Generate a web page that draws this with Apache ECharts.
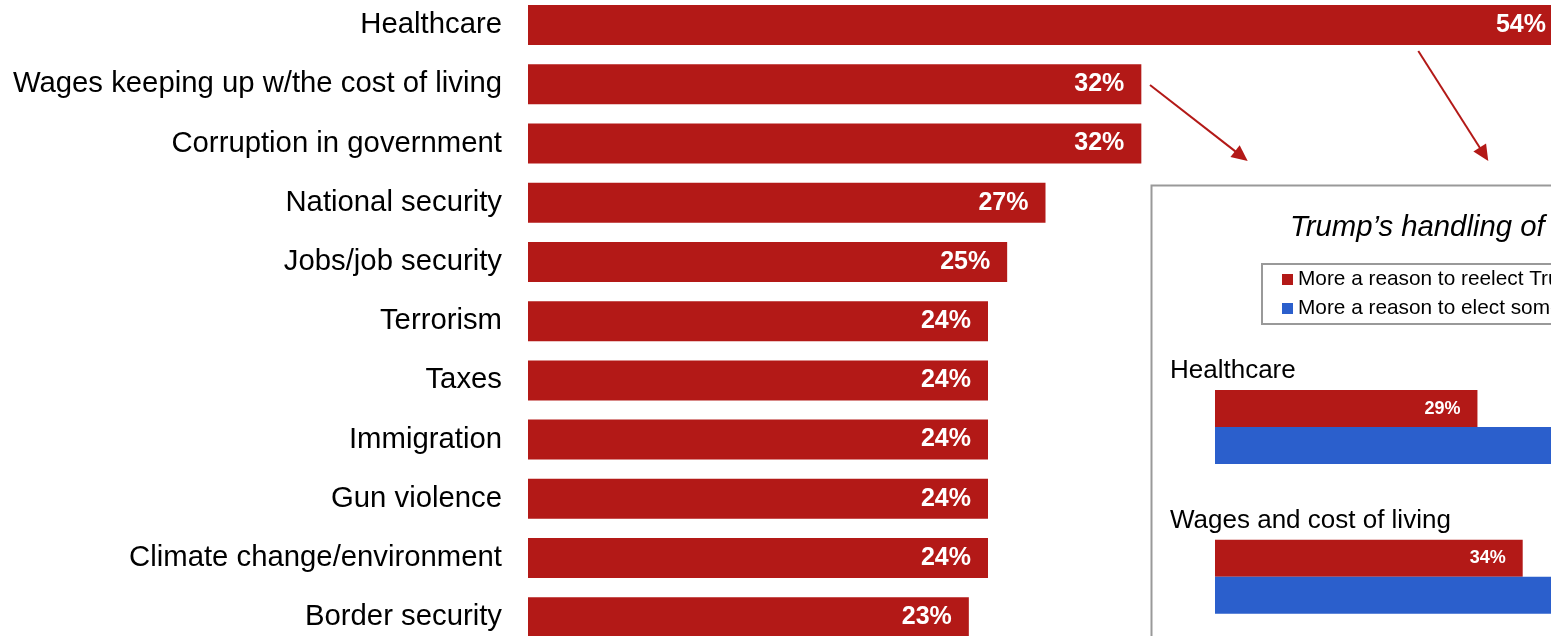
<!DOCTYPE html>
<html>
<head>
<meta charset="utf-8">
<script src="https://cdn.jsdelivr.net/npm/echarts@6/dist/echarts.min.js"></script>
<style>
html,body{margin:0;padding:0;background:#fff;}
#c{width:1551px;height:636px;}
</style>
</head>
<body>
<div id="c"></div>
<script>
// Main chart data
const categories = ['Healthcare','Wages keeping up w/the cost of living','Corruption in government','National security','Jobs/job security','Terrorism','Taxes','Immigration','Gun violence','Climate change/environment','Border security'];
const values = [54,32,32,27,25,24,24,24,24,24,23];

// Inset chart data
const insetTitle = 'Trump’s handling of';
const insetCategories = ['Healthcare','Wages and cost of living'];
const reelectName = 'More a reason to reelect Trump';
const electName = 'More a reason to elect someone else';
const reelectValues = [29,34];
const electValues = [60,57];

const RED = '#B31917';
const BLUE = '#2B5FCC';
const FONT = "'Liberation Sans', Arial, sans-serif";

const chart = echarts.init(document.getElementById('c'), null, {renderer:'canvas'});

function arrow(x1,y1,x2,y2){
  const dx=x2-x1, dy=y2-y1, L=Math.sqrt(dx*dx+dy*dy);
  const ux=dx/L, uy=dy/L, hl=16, hw=7.5;
  const bx=x2-ux*hl, by=y2-uy*hl;
  return [
    {type:'line', shape:{x1:x1,y1:y1,x2:bx+ux*2,y2:by+uy*2}, style:{stroke:RED,lineWidth:2}, z:100},
    {type:'polygon', shape:{points:[[x2,y2],[bx-uy*hw,by+ux*hw],[bx+uy*hw,by-ux*hw]]}, style:{fill:RED}, z:100}
  ];
}

const option = {
  animation:false,
  backgroundColor:'#fff',
  textStyle:{fontFamily:FONT},
  title:{
    text: insetTitle,
    left: 1285, top: 208,
    textStyle:{fontFamily:FONT, fontSize:29.3, fontStyle:'italic', fontWeight:'normal', color:'#000'}
  },
  legend:{
    data:[reelectName, electName],
    orient:'vertical',
    left:1262, top:264,
    padding:[5,20,5,20],
    itemGap:8,
    itemWidth:11, itemHeight:11,
    icon:'rect',
    borderColor:'#999', borderWidth:2,
    textStyle:{fontFamily:FONT, fontSize:20.8, color:'#000', lineHeight:20},
    selectedMode:false
  },
  grid:[
    {left:528, top:-4.6, width:1035, height:651.5, containLabel:false, outerBoundsMode:'none'},
    {left:1215, top:352.2, width:543, height:299.4, containLabel:false, outerBoundsMode:'none'}
  ],
  xAxis:[
    {gridIndex:0, type:'value', min:0, max:54, show:false, splitLine:{show:false}},
    {gridIndex:1, type:'value', min:0, max:60, show:false, splitLine:{show:false}}
  ],
  yAxis:[
    {gridIndex:0, type:'category', data:categories, inverse:true,
     axisLine:{show:false}, axisTick:{show:false},
     axisLabel:{fontFamily:FONT, fontSize:29.3, color:'#000', margin:26, lineHeight:30, padding:[6,0,0,0]}},
    {gridIndex:1, type:'category', data:insetCategories, inverse:true,
     axisLine:{show:false}, axisTick:{show:false},
     axisLabel:{fontFamily:FONT, fontSize:26, color:'#000', margin:45, align:'left',
                verticalAlign:'bottom', lineHeight:26, padding:[0,0,43,0]}}
  ],
  series:[
    {type:'bar', xAxisIndex:0, yAxisIndex:0, data:values, barWidth:40,
     itemStyle:{color:RED},
     label:{show:true, position:'insideRight', distance:17, formatter:'{c}%',
            color:'#fff', fontFamily:FONT, fontSize:25, fontWeight:'bold'}},
    {type:'bar', name:reelectName, xAxisIndex:1, yAxisIndex:1, data:reelectValues, barWidth:37, barGap:'0%',
     itemStyle:{color:RED},
     label:{show:true, position:'insideRight', distance:17, formatter:'{c}%',
            color:'#fff', fontFamily:FONT, fontSize:18, fontWeight:'bold'}},
    {type:'bar', name:electName, xAxisIndex:1, yAxisIndex:1, data:electValues, barWidth:37, barGap:'0%',
     itemStyle:{color:BLUE},
     label:{show:true, position:'insideRight', distance:17, formatter:'{c}%',
            color:'#fff', fontFamily:FONT, fontSize:18, fontWeight:'bold'}}
  ],
  graphic:[
    {type:'rect', left:1149, top:183, shape:{width:700, height:600}, style:{fill:'none', stroke:'#999', lineWidth:2}, z:-1}
  ].concat(arrow(1150,85,1247.7,161)).concat(arrow(1418.3,51,1488.3,161))
};
chart.setOption(option);
</script>
</body>
</html>
